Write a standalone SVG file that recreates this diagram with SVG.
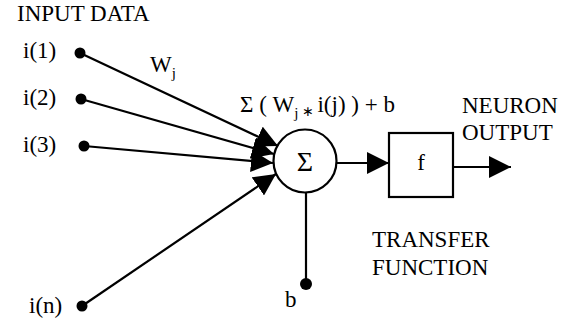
<svg xmlns="http://www.w3.org/2000/svg" width="574" height="325" viewBox="0 0 574 325">
<style>
.t{font-family:'Liberation Serif','Times New Roman',serif;font-size:23px;fill:#000}
.ln{stroke:#000;stroke-width:2.2;fill:none}
.dot{fill:#000}
</style>
<defs>
<marker id="ah" markerUnits="userSpaceOnUse" markerWidth="22" markerHeight="22" viewBox="0 0 20 20" refX="20" refY="10" orient="auto">
<path d="M0,0 L20,10 L0,20 Z" fill="#000"/>
</marker>
</defs>
<rect width="574" height="325" fill="#fff"/>
<text class="t" x="17" y="21">INPUT DATA</text>
<g id="in1"><text class="t" x="23" y="58">i(1)</text><circle class="dot" cx="80" cy="53" r="5.5"/></g>
<g id="in2"><text class="t" x="23" y="105">i(2)</text><circle class="dot" cx="81" cy="99" r="5.5"/></g>
<g id="in3"><text class="t" x="23" y="152">i(3)</text><circle class="dot" cx="84" cy="146" r="5.5"/></g>
<g id="inn"><text class="t" x="29" y="313">i(n)</text><circle class="dot" cx="82" cy="306" r="5.5"/></g>
<g id="bias"><text class="t" x="285" y="307">b</text><circle class="dot" cx="306" cy="284" r="6"/></g>
<g id="sum"><circle cx="305" cy="161" r="31.5" fill="#fff" stroke="#000" stroke-width="2.2"/><text class="t" x="305" y="171" text-anchor="middle" style="font-size:28px">Σ</text></g>
<g id="func"><rect x="389" y="133" width="64" height="64" fill="#fff" stroke="#000" stroke-width="2.2"/><text class="t" x="421" y="170" text-anchor="middle">f</text></g>
<g id="connectors">
<line class="ln" x1="80" y1="53" x2="278" y2="146" marker-end="url(#ah)"/>
<line class="ln" x1="81" y1="99" x2="274" y2="154" marker-end="url(#ah)"/>
<line class="ln" x1="84" y1="146" x2="273" y2="163" marker-end="url(#ah)"/>
<line class="ln" x1="82" y1="306" x2="276" y2="174" marker-end="url(#ah)"/>
<line class="ln" x1="306" y1="192.5" x2="306" y2="284"/>
<line class="ln" x1="336.5" y1="163" x2="389" y2="163" marker-end="url(#ah)"/>
<line class="ln" x1="453" y1="167" x2="511" y2="167" marker-end="url(#ah)"/>
</g>
<g id="labels">
<text class="t" x="150" y="72">W<tspan style="font-size:15px" dy="6">j</tspan></text>
<text class="t" x="240" y="112">Σ ( W<tspan style="font-size:15px" dy="6">j</tspan><tspan style="font-size:14px" dy="-2"> ∗ </tspan><tspan dy="-4">i(j) ) + b</tspan></text>
<text class="t" x="462" y="113">NEURON</text>
<text class="t" x="462" y="140">OUTPUT</text>
<text class="t" x="372" y="247">TRANSFER</text>
<text class="t" x="372" y="275">FUNCTION</text>
</g>
</svg>
